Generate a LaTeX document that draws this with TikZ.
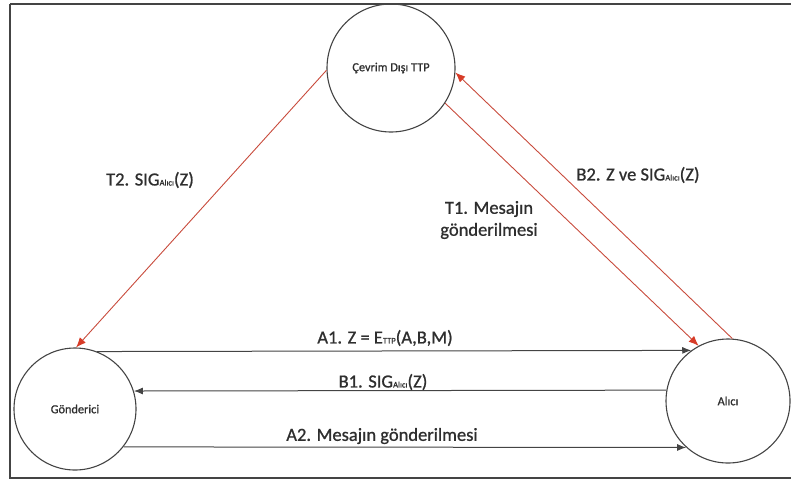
\documentclass[tikz,border=0pt]{standalone}
\usepackage{fontspec}
\setmainfont{Carlito}
\newfontfamily\labelfont{Carlito}[FakeBold=0.9]
\usetikzlibrary{arrows.meta}
\definecolor{ink}{HTML}{2E2E2E}
\definecolor{edge}{HTML}{444444}
\definecolor{redline}{RGB}{200,75,60}
\definecolor{redhead}{RGB}{215,60,40}
\tikzset{
  party/.style={circle, draw=edge, line width=1.1pt, inner sep=0pt, text=ink, font=\labelfont\fontsize{12.3}{14}\selectfont},
  msg/.style={draw=edge, line width=1pt, -{Latex[length=9pt,width=7pt]}},
  ttpmsg/.style={draw=redline, line width=0.9pt, -{Latex[length=10pt,width=8pt,color=redhead]}},
  lbl/.style={text=ink, font=\labelfont\fontsize{18.5}{22}\selectfont, inner sep=0pt, align=center},
  frame/.style={draw=edge, line width=2pt},
}
\newcommand{\smallsub}[1]{{\fontsize{8.5}{9}\selectfont #1}}
\begin{document}
\begin{tikzpicture}[x=1pt, y=-1pt]
  \useasboundingbox (0,0) rectangle (791,480);
  % outer frame (right side runs past the page edge)
  \draw[frame] (10,4) -- (796,4);
  \draw[frame] (10,4) -- (10,478) -- (796,478);

  % the three parties
  \node[party, minimum size=128pt] (ttp) at (391,68) {Çevrim Dışı TTP};
  \node[party, minimum size=122pt] (gon) at (75,409) {Gönderici};
  \node[party, minimum size=124pt] (alici) at (728,401) {Alıcı};

  % direct exchange
  \draw[msg] (gon.69.1) -- (alici.126.6);
  \draw[msg] (alici.170.6) -- (gon.17.2);
  \draw[msg] (gon.-38.5) -- (alici.228.9);

  % exchanges with the offline TTP
  \draw[ttpmsg] (ttp.182) -- (gon.89);
  \draw[ttpmsg] (ttp.327) -- (alici.118);
  \draw[ttpmsg] (alici.86) -- (ttp.356);

  % message labels
  \node[lbl] (la1) at (385,338) {A1. Z = E\smallsub{TTP}(A,B,M)};
  \node[lbl] (lb1) at (383,382) {B1. SIG\smallsub{Alıcı}(Z)};
  \node[lbl] (la2) at (382,436) {A2. Mesajın gönderilmesi};
  \node[lbl] (lt2) at (150,180) {T2. SIG\smallsub{Alıcı}(Z)};
  \node[lbl] (lb2) at (638,175) {B2. Z ve SIG\smallsub{Alıcı}(Z)};
  \node[lbl] (lt1) at (489,220) {T1. Mesajın\\gönderilmesi};
\end{tikzpicture}
\end{document}
